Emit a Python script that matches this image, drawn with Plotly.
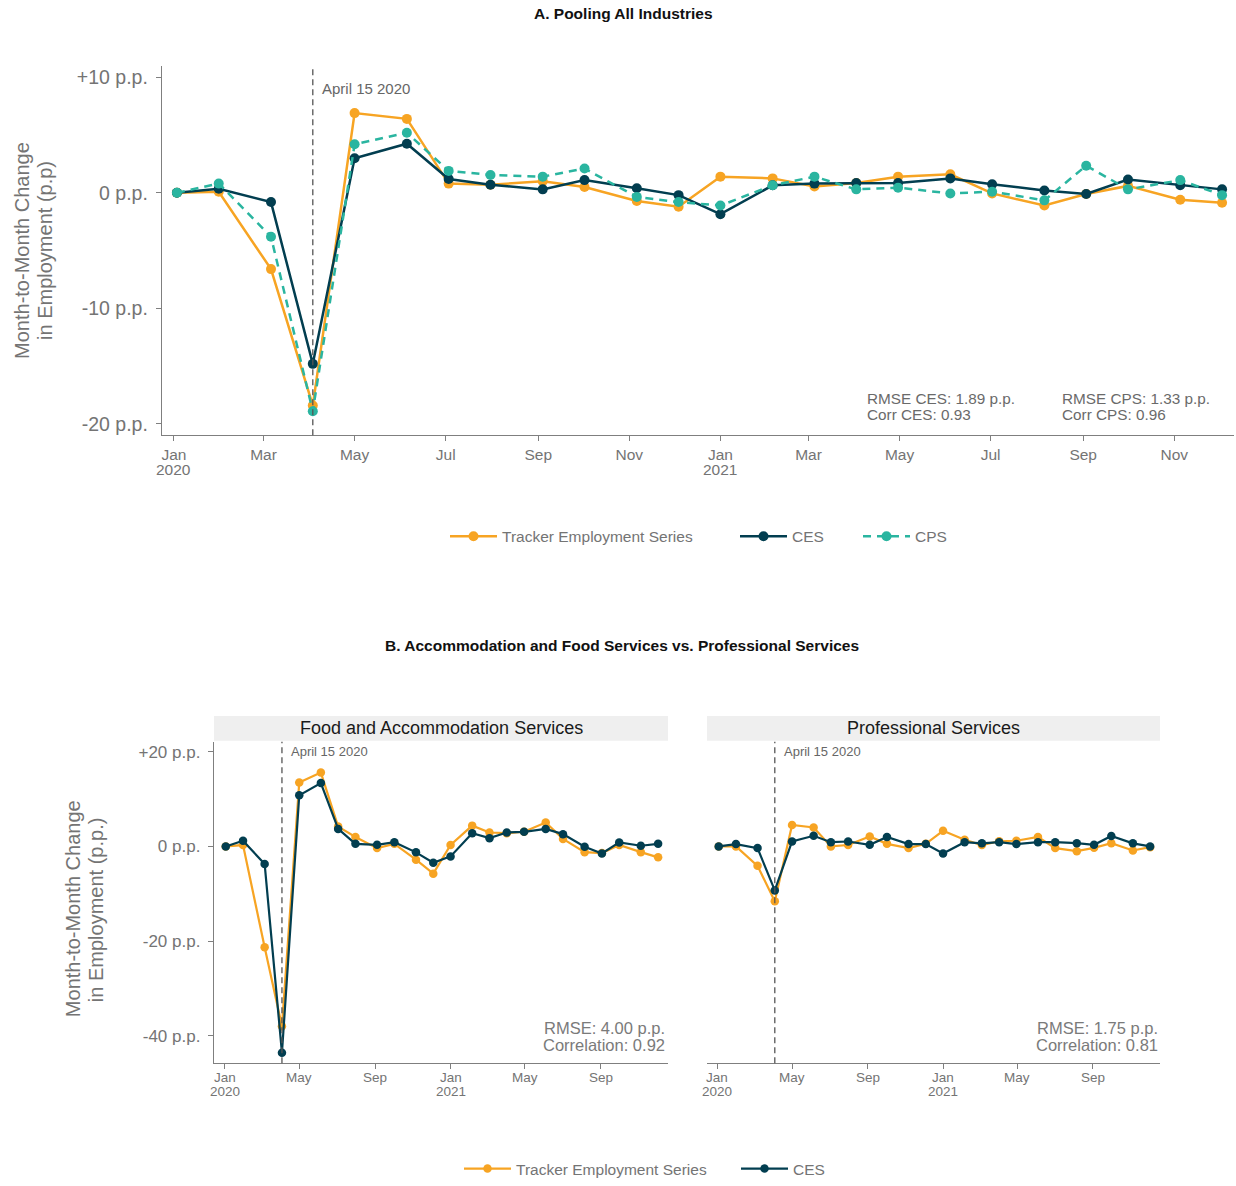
import plotly.graph_objects as go

W, H = 1236, 1186

# ---------------- data ----------------
dates = ["2020-01-03", "2020-01-31", "2020-03-06", "2020-04-03", "2020-05-01", "2020-06-05",
         "2020-07-03", "2020-07-31", "2020-09-04", "2020-10-02", "2020-11-06", "2020-12-04",
         "2021-01-01", "2021-02-05", "2021-03-05", "2021-04-02", "2021-04-30", "2021-06-04",
         "2021-07-02", "2021-08-06", "2021-09-03", "2021-10-01", "2021-11-05", "2021-12-03"]
event_date = "2020-04-03"

tracker_all = [0, 0.1, -6.6, -18.4, 6.9, 6.4, 0.8, 0.7, 1.0, 0.5, -0.7, -1.2,
               1.4, 1.25, 0.55, 0.85, 1.4, 1.6, -0.05, -1.1, -0.1, 0.6, -0.6, -0.85]
ces_all = [0, 0.35, -0.8, -14.8, 3.0, 4.25, 1.2, 0.7, 0.3, 1.1, 0.4, -0.2,
           -1.85, 0.65, 0.8, 0.85, 0.85, 1.25, 0.75, 0.2, -0.1, 1.15, 0.65, 0.3]
cps_all = [0, 0.8, -3.8, -18.9, 4.2, 5.2, 1.9, 1.55, 1.4, 2.1, -0.35, -0.8,
           -1.1, 0.65, 1.4, 0.3, 0.45, -0.05, 0.1, -0.65, 2.35, 0.3, 1.1, -0.2]

tracker_food = [0, 0.3, -21.3, -38.0, 13.5, 15.6, 4.2, 2.0, -0.35, 0.55, -2.8, -5.75,
                0.3, 4.4, 2.95, 2.8, 3.1, 5.05, 1.6, -1.2, -1.4, 0.3, -1.2, -2.3]
ces_food = [0, 1.2, -3.7, -43.6, 10.8, 13.4, 3.7, 0.55, 0.35, 0.9, -1.25, -3.45,
            -2.1, 2.8, 1.75, 2.95, 3.1, 3.7, 2.6, -0.05, -1.5, 0.85, 0.15, 0.55]

tracker_prof = [0, 0, -4.1, -11.6, 4.55, 4.0, 0, 0.3, 2.1, 0.55, -0.35, 0.55,
                3.3, 1.4, 0.3, 1.1, 1.2, 2.0, -0.35, -1.0, -0.3, 0.7, -0.85, -0.15]
ces_prof = [0, 0.5, -0.35, -9.3, 1.05, 2.25, 0.9, 1.05, 0.35, 2.0, 0.5, 0.5,
            -1.5, 0.9, 0.65, 0.9, 0.5, 0.9, 0.9, 0.7, 0.35, 2.2, 0.65, 0]

a_xtickvals = ["2020-01-01", "2020-03-01", "2020-05-01", "2020-07-01", "2020-09-01", "2020-11-01",
               "2021-01-01", "2021-03-01", "2021-05-01", "2021-07-01", "2021-09-01", "2021-11-01"]
a_xticktext = ["Jan", "Mar", "May", "Jul", "Sep", "Nov", "Jan", "Mar", "May", "Jul", "Sep", "Nov"]
b_xtickvals = ["2020-01-01", "2020-05-01", "2020-09-01", "2021-01-01", "2021-05-01", "2021-09-01"]
b_xticktext = ["Jan", "May", "Sep", "Jan", "May", "Sep"]
year_vals = ["2020-01-01", "2021-01-01"]
year_text = ["2020", "2021"]

a_ytickvals = [10, 0, -10, -20]
a_yticktext = ["+10 p.p.", "0 p.p.", "-10 p.p.", "-20 p.p."]
b_ytickvals = [20, 0, -20, -40]
b_yticktext = ["+20 p.p.", "0 p.p.", "-20 p.p.", "-40 p.p."]

stats_a_ces = ["RMSE CES: 1.89 p.p.", "Corr CES: 0.93"]
stats_a_cps = ["RMSE CPS: 1.33 p.p.", "Corr CPS: 0.96"]
stats_food = ["RMSE: 4.00 p.p.", "Correlation: 0.92"]
stats_prof = ["RMSE: 1.75 p.p.", "Correlation: 0.81"]

# ---------------- styling ----------------
ORANGE = "#F7A423"
DARK = "#023E50"
TEAL = "#2AB5A0"
AXIS = "#7F7F7F"
TXT = "#747474"
FONT = "Liberation Sans, Arial, sans-serif"


def px(x):
    return x / W


def py(y):
    return 1 - y / H


fig = go.Figure()

# Panel A
fig.add_trace(go.Scatter(x=dates, y=tracker_all, mode="lines+markers", name="Tracker Employment Series",
                         line=dict(color=ORANGE, width=2.5), marker=dict(color=ORANGE, size=10),
                         xaxis="x", yaxis="y", legend="legend"))
fig.add_trace(go.Scatter(x=dates, y=ces_all, mode="lines+markers", name="CES",
                         line=dict(color=DARK, width=2.5), marker=dict(color=DARK, size=10),
                         xaxis="x", yaxis="y", legend="legend2"))
fig.add_trace(go.Scatter(x=dates, y=cps_all, mode="lines+markers", name="CPS",
                         line=dict(color=TEAL, width=2.5, dash="8px,6px"), marker=dict(color=TEAL, size=10),
                         xaxis="x", yaxis="y", legend="legend3"))

# Panel B left (food)
fig.add_trace(go.Scatter(x=dates, y=tracker_food, mode="lines+markers", name="Tracker Employment Series",
                         line=dict(color=ORANGE, width=2.2), marker=dict(color=ORANGE, size=8.5),
                         xaxis="x2", yaxis="y2", legend="legend4"))
fig.add_trace(go.Scatter(x=dates, y=ces_food, mode="lines+markers", name="CES",
                         line=dict(color=DARK, width=2.2), marker=dict(color=DARK, size=8.5),
                         xaxis="x2", yaxis="y2", legend="legend5"))
# Panel B right (professional)
fig.add_trace(go.Scatter(x=dates, y=tracker_prof, mode="lines+markers", name="Tracker Employment Series",
                         line=dict(color=ORANGE, width=2.2), marker=dict(color=ORANGE, size=8.5),
                         xaxis="x3", yaxis="y3", showlegend=False))
fig.add_trace(go.Scatter(x=dates, y=ces_prof, mode="lines+markers", name="CES",
                         line=dict(color=DARK, width=2.2), marker=dict(color=DARK, size=8.5),
                         xaxis="x3", yaxis="y3", showlegend=False))

common_axis = dict(showgrid=False, zeroline=False, showline=True, linecolor=AXIS, linewidth=1.4,
                   ticks="outside", ticklen=5, tickcolor=AXIS, tickwidth=1.2)


def leg(xstart, yc):
    # xstart: pixel x where the legend entry begins, yc: pixel y of the row
    return dict(orientation="h", x=px(xstart), xanchor="left", y=py(yc), yanchor="middle",
                font=dict(size=15.5, color=TXT), bgcolor="rgba(0,0,0,0)", itemwidth=47,
                borderwidth=0)


fig.update_layout(
    width=W, height=H,
    margin=dict(l=0, r=0, t=0, b=0),
    paper_bgcolor="white", plot_bgcolor="white",
    font=dict(family=FONT, color=TXT),
    xaxis=dict(common_axis, domain=[px(162), px(1234)], anchor="y", type="date",
               range=["2019-12-24", "2021-12-11"], tickvals=a_xtickvals, ticktext=a_xticktext,
               tickfont=dict(size=15.5, color=TXT), ticklabelstandoff=0),
    yaxis=dict(common_axis, domain=[py(437), py(66)], anchor="x", range=[-20.97, 11.0],
               tickvals=a_ytickvals, ticktext=a_yticktext, tickfont=dict(size=19.5, color=TXT),
               ticklabelstandoff=4),
    xaxis2=dict(common_axis, domain=[px(214), px(668)], anchor="y2", type="date",
                range=["2019-12-15", "2021-12-19"], tickvals=b_xtickvals, showticklabels=False),
    yaxis2=dict(common_axis, domain=[py(1067.7), py(745)], anchor="x2", range=[-45.8, 22.1],
                tickvals=b_ytickvals, ticktext=b_yticktext, tickfont=dict(size=17, color=TXT),
                ticklabelstandoff=4),
    xaxis3=dict(common_axis, domain=[px(707), px(1160)], anchor="y3", type="date",
                range=["2019-12-15", "2021-12-19"], tickvals=b_xtickvals, showticklabels=False),
    yaxis3=dict(showgrid=False, zeroline=False, showline=False, showticklabels=False, ticks="",
                domain=[py(1067.7), py(745)], anchor="x3", range=[-45.8, 22.1]),
    legend=leg(445, 539),
    legend2=leg(735, 539),
    legend3=leg(858, 539),
    legend4=leg(459, 1174),
    legend5=leg(736, 1174),
)

shapes = []
for xr in ["x", "x2", "x3"]:
    shapes.append(dict(type="line", xref=xr, yref=xr.replace("x", "y") + " domain",
                       x0=event_date, x1=event_date, y0=0, y1=1,
                       line=dict(color="#555555", width=1.3, dash="6px,4px")))
# strips
shapes.append(dict(type="rect", xref="paper", yref="paper", x0=px(214), x1=px(668),
                   y0=py(744), y1=py(719), fillcolor="#EFEFEF", line=dict(width=0), layer="below"))
shapes.append(dict(type="rect", xref="paper", yref="paper", x0=px(707), x1=px(1160),
                   y0=py(744), y1=py(719), fillcolor="#EFEFEF", line=dict(width=0), layer="below"))
fig.update_layout(shapes=shapes)

ann = []
# titles
ann.append(dict(text="<b>A. Pooling All Industries</b>", xref="paper", yref="paper",
                x=px(623), y=py(14), xanchor="center", yanchor="middle", showarrow=False,
                font=dict(size=15.5, color="#111111")))
ann.append(dict(text="<b>B. Accommodation and Food Services vs. Professional Services</b>",
                xref="paper", yref="paper", x=px(622), y=py(648), xanchor="center", yanchor="middle",
                showarrow=False, font=dict(size=15.5, color="#111111")))
# year labels under the Jan ticks of panel A
for v, t in zip(year_vals, year_text):
    ann.append(dict(text=t, xref="x", yref="paper", x=v, y=py(471), xanchor="center",
                    yanchor="middle", showarrow=False, font=dict(size=15.5, color=TXT)))
# panel B x tick labels
for xr in ["x2", "x3"]:
    for v, t in zip(b_xtickvals, b_xticktext):
        ann.append(dict(text=t, xref=xr, yref="paper", x=v, y=py(1082), xanchor="center",
                        yanchor="middle", showarrow=False, font=dict(size=13.5, color=TXT)))
    for v, t in zip(year_vals, year_text):
        ann.append(dict(text=t, xref=xr, yref="paper", x=v, y=py(1096.5), xanchor="center",
                        yanchor="middle", showarrow=False, font=dict(size=13.5, color=TXT)))
# strip labels
ann.append(dict(text="Food and Accommodation Services", xref="paper", yref="paper",
                x=px(441), y=py(731), xanchor="center", yanchor="middle", showarrow=False,
                font=dict(size=18, color="#1a1a1a")))
ann.append(dict(text="Professional Services", xref="paper", yref="paper",
                x=px(933), y=py(731), xanchor="center", yanchor="middle", showarrow=False,
                font=dict(size=18, color="#1a1a1a")))
# event labels
ann.append(dict(text="April 15 2020", xref="x", yref="paper", x=event_date, y=py(89),
                xanchor="left", yanchor="middle", xshift=7, showarrow=False,
                font=dict(size=15, color="#666666")))
for xr in ["x2", "x3"]:
    ann.append(dict(text="April 15 2020", xref=xr, yref="paper", x=event_date, y=py(755),
                    xanchor="left", yanchor="middle", xshift=7, showarrow=False,
                    font=dict(size=13, color="#666666")))
# stats
for xl, lines in [(865, stats_a_ces), (1060, stats_a_cps)]:
    for yy, t in zip([400, 416], lines):
        ann.append(dict(text=t, xref="paper", yref="paper", x=px(xl), y=py(yy),
                        xanchor="left", yanchor="middle", showarrow=False,
                        font=dict(size=15.3, color="#6a6a6a")))
for xr_, lines in [(667, stats_food), (1160, stats_prof)]:
    for yy, t in zip([1032, 1049], lines):
        ann.append(dict(text=t, xref="paper", yref="paper", x=px(xr_), y=py(yy),
                        xanchor="right", yanchor="middle", showarrow=False,
                        font=dict(size=16.5, color="#7a7a7a")))
# y-axis titles
for xx, t in [(22, "Month-to-Month Change"), (45, "in Employment (p.p)")]:
    ann.append(dict(text=t, xref="paper", yref="paper", x=px(xx), y=py(252), xanchor="center",
                    yanchor="middle", textangle=-90, showarrow=False,
                    font=dict(size=20, color="#747474")))
for xx, t in [(73, "Month-to-Month Change"), (96, "in Employment (p.p.)")]:
    ann.append(dict(text=t, xref="paper", yref="paper", x=px(xx), y=py(913), xanchor="center",
                    yanchor="middle", textangle=-90, showarrow=False,
                    font=dict(size=20, color="#747474")))
fig.update_layout(annotations=ann)

fig.write_html("out.html", config={"displayModeBar": False},
               post_script="document.body.style.margin='0px';document.body.style.overflow='hidden';")
